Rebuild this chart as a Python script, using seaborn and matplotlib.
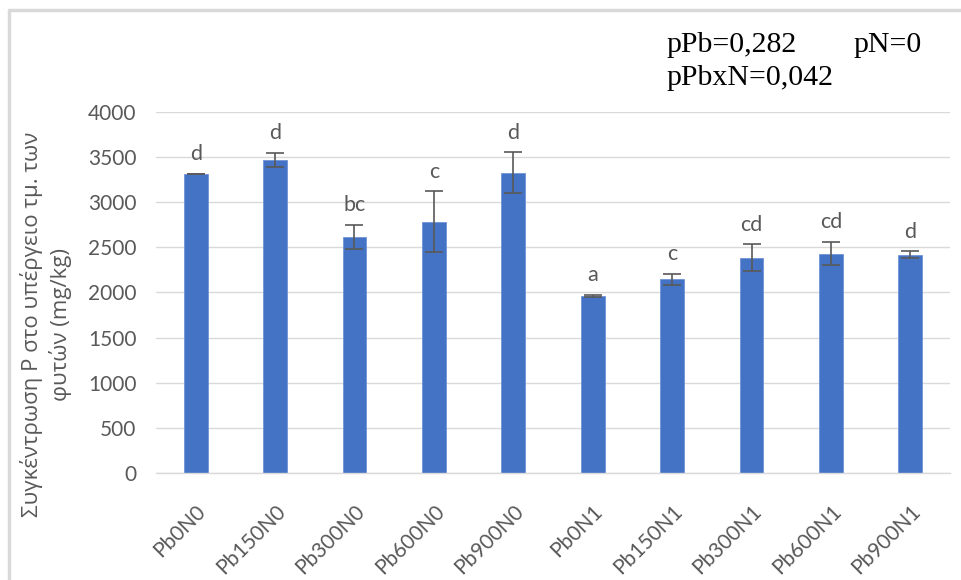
import matplotlib
matplotlib.use('Agg')
import pandas as pd
import matplotlib.pyplot as plt
import seaborn as sns

# Data.

treatments = ['Pb0N0', 'Pb150N0', 'Pb300N0', 'Pb600N0', 'Pb900N0',
              'Pb0N1', 'Pb150N1', 'Pb300N1', 'Pb600N1', 'Pb900N1']
p_conc = [3313, 3468, 2615, 2785, 3327, 1965, 2146, 2386, 2430, 2419]
p_err = [5, 78, 133, 335, 225, 10, 60, 148, 130, 37]
letters = ['d', 'd', 'bc', 'c', 'd', 'a', 'c', 'cd', 'cd', 'd']
stats_text = ['pPb=0,282', 'pN=0', 'pPbxN=0,042']
y_label = 'Συγκέντρωση P στο υπέργειο τμ. των\nφυτών (mg/kg)'

df = pd.DataFrame({'treatment': treatments, 'p': p_conc, 'err': p_err})

sns.set_style('white')
plt.rcParams['font.family'] = ['Lato', 'Noto Sans', 'DejaVu Sans']

grey = '#595959'
fig = plt.figure(figsize=(9.61, 5.8), dpi=100)
ax = fig.add_axes([0.1623, 0.1845, 0.8263, 0.6224])

sns.barplot(data=df, x='treatment', y='p', color='#4472C4', width=0.3,
            saturation=1, errorbar=None, edgecolor='#6f93d6', linewidth=0.6,
            ax=ax, zorder=2)
ax.errorbar(df['treatment'], df['p'], yerr=df['err'], fmt='none',
            ecolor=grey, elinewidth=1.2, capsize=6.5, capthick=1.2, zorder=3)

for i, (val, err, lab) in enumerate(zip(p_conc, p_err, letters)):
    ax.annotate(lab, (i, val + err), xytext=(0, 7), textcoords='offset points',
                ha='center', va='bottom', fontsize=15.5, color=grey)

ax.set_ylim(0, 4000)
ax.set_yticks(range(0, 4001, 500))
ax.set_xlim(-0.5, len(treatments) - 0.5)
ax.yaxis.grid(True, color='#d9d9d9', linewidth=1, zorder=0)
for side in ['top', 'right', 'left']:
    ax.spines[side].set_visible(False)
ax.spines['bottom'].set_color('#d9d9d9')
ax.spines['bottom'].set_linewidth(1)
ax.tick_params(axis='both', length=0, colors=grey, labelsize=15)
ax.tick_params(axis='y', pad=14)
ax.tick_params(axis='x', pad=20)
plt.setp(ax.get_xticklabels(), rotation=45, ha='right', rotation_mode='anchor')
ax.set_xlabel('')
ax.set_ylabel('')

fig.text(0.048, 0.44, y_label, rotation=90, ha='center', va='center',
         fontsize=16, color=grey, family=['Open Sans', 'DejaVu Sans'],
         linespacing=1.35)

fig.text(0.694, 0.91, stats_text[0], fontsize=21.5, family='Liberation Serif',
         color='black', va='baseline')
fig.text(0.888, 0.91, stats_text[1], fontsize=21.5, family='Liberation Serif',
         color='black', va='baseline')
fig.text(0.694, 0.853, stats_text[2], fontsize=21.5, family='Liberation Serif',
         color='black', va='baseline')

# Frame of the chart area (left and top edge visible in the screenshot).
fig.add_artist(plt.Line2D([0.0094, 0.0094], [0, 0.983], color='#d9d9d9',
                          linewidth=2.5, transform=fig.transFigure))
fig.add_artist(plt.Line2D([0.0094, 1], [0.983, 0.983], color='#d9d9d9',
                          linewidth=2.5, transform=fig.transFigure))

fig.savefig('out.png', dpi=100)
